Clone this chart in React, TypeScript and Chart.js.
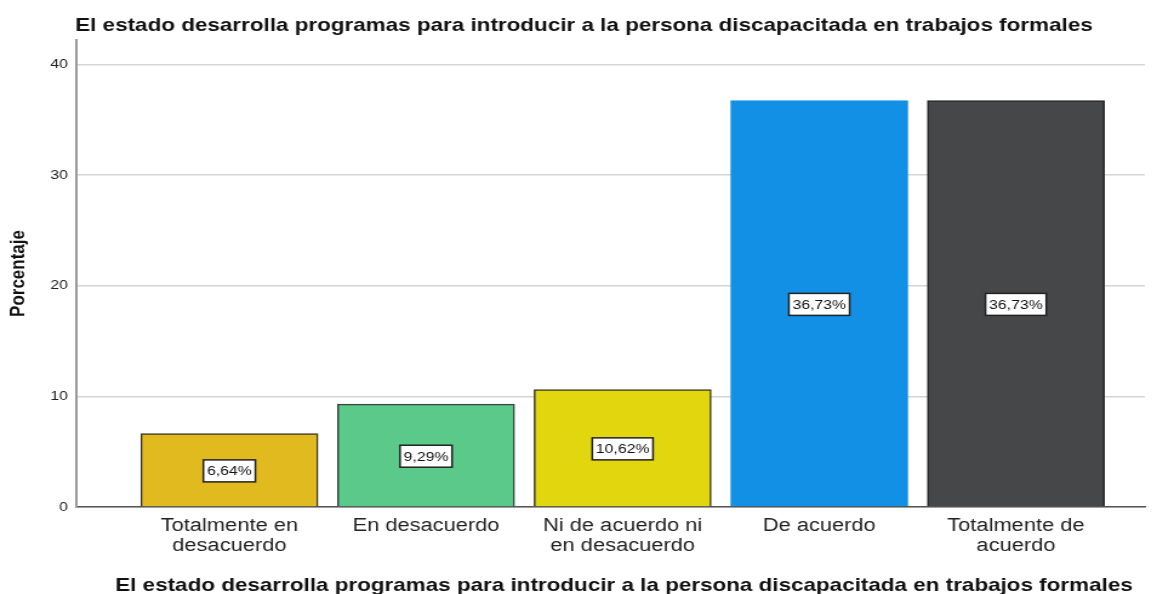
import React, { useEffect, useRef } from "react";
import { Chart, registerables } from "chart.js";

Chart.register(...registerables);

const chartTitle = "El estado desarrolla programas para introducir a la persona discapacitada en trabajos formales";
const categories: string[][] = [
  ["Totalmente en", "desacuerdo"],
  ["En desacuerdo"],
  ["Ni de acuerdo ni", "en desacuerdo"],
  ["De acuerdo"],
  ["Totalmente de", "acuerdo"],
];
const percentages: number[] = [6.64, 9.29, 10.62, 36.73, 36.73];
const percentLabels: string[] = ["6,64%", "9,29%", "10,62%", "36,73%", "36,73%"];
const yTicks: number[] = [0, 10, 20, 30, 40];
const barColors: string[] = ["#E0BA1F", "#5BC98A", "#E2D70F", "#1290E6", "#464749"];
const barBorders: string[] = ["#3a3526", "#34473a", "#3a3a26", "#1290E6", "#262626"];

const FONT = "'Liberation Sans', Arial, sans-serif";
// The reference rendering is horizontally stretched; draw at a narrower internal width and scale up via CSS.
const OUT_W = 1157;
const OUT_H = 594;
const STRETCH = 1.213;
const IN_W = Math.round(OUT_W / STRETCH);

const labelPlugin = {
  id: "barLabels",
  afterDatasetsDraw(chart: any) {
    const ctx = chart.ctx;
    const meta = chart.getDatasetMeta(0);
    ctx.save();
    ctx.font = `13px ${FONT}`;
    ctx.textAlign = "center";
    ctx.textBaseline = "middle";
    meta.data.forEach((bar: any, i: number) => {
      const cx = bar.x;
      const cy = (bar.y + bar.base) / 2;
      const text = percentLabels[i];
      const w = ctx.measureText(text).width + 6;
      const h = 22;
      ctx.fillStyle = "#ffffff";
      ctx.fillRect(cx - w / 2, cy - h / 2 + 1, w, h);
      ctx.lineWidth = 1.5;
      ctx.strokeStyle = "#222222";
      ctx.strokeRect(cx - w / 2, cy - h / 2 + 1, w, h);
      ctx.fillStyle = "#111111";
      ctx.fillText(text, cx, cy + 2);
    });
    ctx.restore();
  },
};

const titlePlugin = {
  id: "titles",
  afterDraw(chart: any) {
    const ctx = chart.ctx;
    ctx.save();
    ctx.fillStyle = "#111111";
    ctx.font = `bold 18.5px ${FONT}`;
    ctx.textAlign = "left";
    ctx.textBaseline = "alphabetic";
    ctx.fillText(chartTitle, 62, 31);
    ctx.fillText(chartTitle, 95, 591);
    ctx.restore();
  },
};

export default function App() {
  const canvasRef = useRef<HTMLCanvasElement | null>(null);

  useEffect(() => {
    if (!canvasRef.current) return;
    const chart = new Chart(canvasRef.current, {
      type: "bar",
      data: {
        datasets: [
          {
            data: percentages.map((v, i) => ({ x: i, y: v })),
            backgroundColor: barColors,
            borderColor: barBorders,
            borderWidth: 1.5,
            barThickness: 146,
          },
        ],
      },
      options: {
        animation: false,
        responsive: false,
        devicePixelRatio: 1,
        layout: { padding: { top: 40, right: 10, left: 0, bottom: 0 } },
        plugins: {
          legend: { display: false },
          tooltip: { enabled: false },
          title: { display: false },
        },
        scales: {
          x: {
            type: "linear",
            offset: false,
            min: -0.778,
            max: 4.656,
            grid: { display: false, drawTicks: false },
            border: { display: true, color: "#555555", width: 1.5 },
            afterFit: (s: any) => {
              s.height = 87;
            },
            afterBuildTicks: (s: any) => {
              s.ticks = categories.map((_, i) => ({ value: i }));
            },
            ticks: {
              autoSkip: false,
              maxRotation: 0,
              minRotation: 0,
              padding: 9,
              color: "#222222",
              font: { family: FONT, size: 18, lineHeight: 1.11 },
              callback: (v: any) => categories[Math.round(Number(v))] || "",
            },
          },
          y: {
            min: 0,
            max: 42.2,
            afterFit: (s: any) => {
              s.width = 63;
            },
            afterBuildTicks: (s: any) => {
              s.ticks = yTicks.map((v) => ({ value: v }));
            },
            grid: { color: "#D4D4D4", lineWidth: 1.5, drawTicks: false },
            border: { display: true, color: "#9a9a9a", width: 2 },
            ticks: {
              padding: 7,
              color: "#222222",
              font: { family: FONT, size: 13 },
            },
            title: {
              display: true,
              text: "Porcentaje",
              color: "#111111",
              font: { family: FONT, size: 17, weight: "bold" },
              padding: { top: 5, bottom: 0 },
            },
          },
        },
      },
      plugins: [labelPlugin, titlePlugin],
    });
    return () => chart.destroy();
  }, []);

  return (
    <div style={{ position: "fixed", left: 0, top: 0, width: `${OUT_W}px`, height: `${OUT_H}px`, background: "#ffffff", overflow: "hidden" }}>
      <canvas
        ref={canvasRef}
        width={IN_W}
        height={OUT_H}
        style={{ display: "block", width: `${OUT_W}px`, height: `${OUT_H}px` }}
      />
    </div>
  );
}
